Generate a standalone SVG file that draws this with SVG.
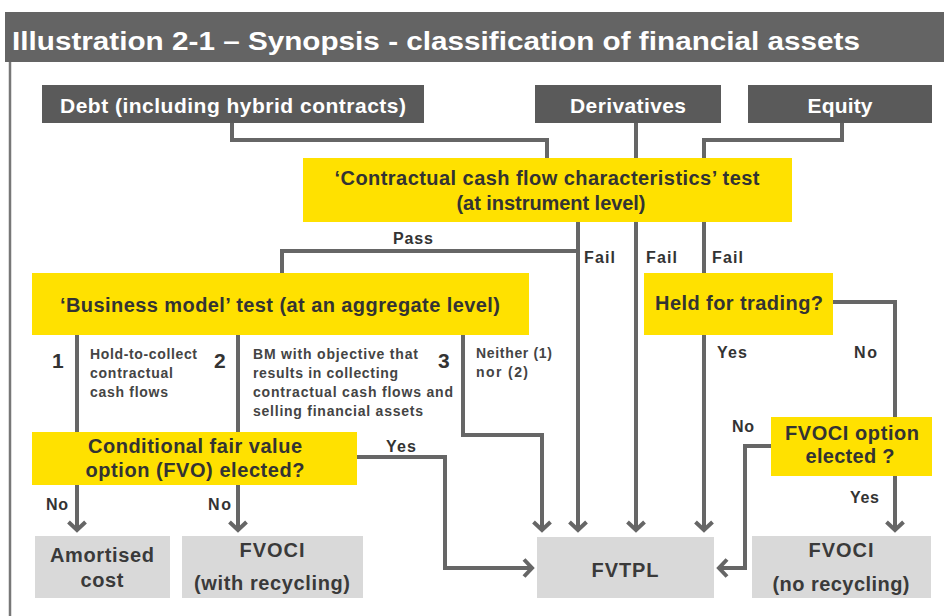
<svg xmlns="http://www.w3.org/2000/svg" width="944" height="616" viewBox="0 0 944 616">
<style>
  text { font-family: "Liberation Sans", Arial, sans-serif; font-weight: bold; }
  .title { fill: #ffffff; font-size: 26px; }
  .dark rect { fill: #5a5a5a; }
  .dark text { fill: #ffffff; font-size: 21px; text-anchor: middle; }
  .yel rect { fill: #ffe100; }
  .yel text { fill: #333333; font-size: 20px; text-anchor: middle; }
  .gry rect { fill: #d9d9d9; }
  .gry text { fill: #3a3a3a; font-size: 20px; text-anchor: middle; }
  .lbl { fill: #333333; font-size: 16px; }
  .num { fill: #333333; font-size: 21px; }
  .sm { fill: #444444; font-size: 14px; }
  .conn path { fill: none; stroke: #666666; stroke-width: 4; stroke-linejoin: miter; }
  .arr { marker-end: url(#ah); }
</style>
<defs>
  <marker id="ah" markerUnits="userSpaceOnUse" markerWidth="26" markerHeight="26" viewBox="-13 -13 26 26" refX="0" refY="0" orient="auto">
    <path d="M-9,-8.5 L-1,0 L-9,8.5" fill="none" stroke="#666666" stroke-width="4"/>
  </marker>
</defs>
<rect x="0" y="0" width="944" height="616" fill="#ffffff"/>
<g id="header">
  <rect x="5" y="12" width="939" height="50" fill="#646464"/>
  <text class="title" x="12" y="50" textLength="848" lengthAdjust="spacingAndGlyphs">Illustration 2-1 – Synopsis - classification of financial assets</text>
  <line x1="10" y1="62" x2="10" y2="616" stroke="#777777" stroke-width="2.5"/>
</g>
<g id="connectors" class="conn">
  <path d="M232,123 V140 H547 V158"/>
  <path d="M636,123 V158"/>
  <path d="M842,123 V140 H704 V158"/>
  <path d="M578,251 H282 V273"/>
  <path class="arr" d="M578,222 V531"/>
  <path class="arr" d="M636,222 V531"/>
  <path d="M704,222 V273"/>
  <path class="arr" d="M704,335 V531"/>
  <path d="M833,302 H895 V417"/>
  <path class="arr" d="M895,476 V531"/>
  <path class="arr" d="M771,446 H745 V568 H718"/>
  <path d="M77,335 V432"/>
  <path class="arr" d="M77,485 V531"/>
  <path d="M238,335 V432"/>
  <path class="arr" d="M238,485 V531"/>
  <path class="arr" d="M463,335 V435 H542 V531"/>
  <path class="arr" d="M357,457 H445 V568 H533"/>
</g>
<g id="debt" class="dark">
  <rect x="42" y="85" width="382" height="38"/>
  <text x="233" y="113" textLength="346">Debt (including hybrid contracts)</text>
</g>
<g id="derivatives" class="dark">
  <rect x="535" y="85" width="186" height="38"/>
  <text x="628" y="113" textLength="116">Derivatives</text>
</g>
<g id="equity" class="dark">
  <rect x="748" y="85" width="184" height="38"/>
  <text x="840" y="113" textLength="65">Equity</text>
</g>
<g id="ccf-test" class="yel">
  <rect x="303" y="158" width="489" height="64"/>
  <text x="547" y="185" textLength="425">‘Contractual cash flow characteristics’ test</text>
  <text x="551" y="210" textLength="189">(at instrument level)</text>
</g>
<g id="bm-test" class="yel">
  <rect x="32" y="273" width="497" height="62"/>
  <text x="280" y="312" textLength="440">‘Business model’ test (at an aggregate level)</text>
</g>
<g id="held-for-trading" class="yel">
  <rect x="644" y="273" width="189" height="62"/>
  <text x="739" y="310" textLength="168">Held for trading?</text>
</g>
<g id="fvo" class="yel">
  <rect x="32" y="432" width="325" height="53"/>
  <text x="195" y="453" textLength="214">Conditional fair value</text>
  <text x="195" y="477" textLength="219">option (FVO) elected?</text>
</g>
<g id="fvoci-option" class="yel">
  <rect x="771" y="417" width="161" height="59"/>
  <text x="852" y="440" textLength="134">FVOCI option</text>
  <text x="850" y="463" textLength="89">elected ?</text>
</g>
<g id="amortised-cost" class="gry">
  <rect x="35" y="536" width="135" height="62"/>
  <text x="102" y="562" textLength="104">Amortised</text>
  <text x="102" y="587" textLength="43">cost</text>
</g>
<g id="fvoci-recycling" class="gry">
  <rect x="182" y="536" width="181" height="62"/>
  <text x="272" y="557" textLength="65">FVOCI</text>
  <text x="272" y="590" textLength="156">(with recycling)</text>
</g>
<g id="fvtpl" class="gry">
  <rect x="537" y="537" width="177" height="61"/>
  <text x="625" y="577" textLength="67">FVTPL</text>
</g>
<g id="fvoci-no-recycling" class="gry">
  <rect x="752" y="536" width="179" height="62"/>
  <text x="841" y="557" textLength="65">FVOCI</text>
  <text x="841" y="591" textLength="137">(no recycling)</text>
</g>
<g id="labels">
  <text class="lbl" x="393" y="244" textLength="40">Pass</text>
  <text class="lbl" x="584" y="263" textLength="31">Fail</text>
  <text class="lbl" x="646" y="263" textLength="31">Fail</text>
  <text class="lbl" x="712" y="263" textLength="31">Fail</text>
  <text class="lbl" x="717" y="358" textLength="30">Yes</text>
  <text class="lbl" x="854" y="358" textLength="23">No</text>
  <text class="lbl" x="732" y="432" textLength="22">No</text>
  <text class="lbl" x="850" y="503" textLength="29">Yes</text>
  <text class="lbl" x="386" y="452" textLength="30">Yes</text>
  <text class="lbl" x="46" y="510" textLength="22">No</text>
  <text class="lbl" x="208" y="510" textLength="23">No</text>
  <text class="num" x="52" y="368">1</text>
  <text class="num" x="214" y="368">2</text>
  <text class="num" x="438" y="368">3</text>
  <text class="sm" x="90" y="359" textLength="107">Hold-to-collect</text>
  <text class="sm" x="90" y="378" textLength="83">contractual</text>
  <text class="sm" x="90" y="397" textLength="78">cash flows</text>
  <text class="sm" x="253" y="359" textLength="165">BM with objective that</text>
  <text class="sm" x="253" y="378" textLength="145">results in collecting</text>
  <text class="sm" x="253" y="397" textLength="200">contractual cash flows and</text>
  <text class="sm" x="253" y="416" textLength="170">selling financial assets</text>
  <text class="sm" x="476" y="358" textLength="76">Neither (1)</text>
  <text class="sm" x="476" y="377" textLength="52">nor  (2)</text>
</g>
</svg>
